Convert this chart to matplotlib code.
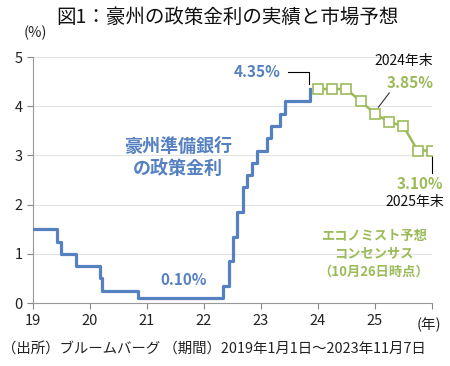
import matplotlib
matplotlib.use('Agg')
import matplotlib.pyplot as plt
import pandas as pd

plt.rcParams['font.family'] = ['Noto Sans CJK JP', 'DejaVu Sans']

# RBA cash rate, actual (change dates)
rba_dates = ['2019-01-01', '2019-06-04', '2019-07-02', '2019-10-01',
             '2020-03-03', '2020-03-19', '2020-11-03', '2022-05-03',
             '2022-06-07', '2022-07-05', '2022-08-02', '2022-09-06',
             '2022-10-04', '2022-11-01', '2022-12-06', '2023-02-07',
             '2023-03-07', '2023-05-02', '2023-06-06', '2023-11-07']
rba_rate = [1.50, 1.25, 1.00, 0.75, 0.50, 0.25, 0.10, 0.35, 0.85, 1.35,
            1.85, 2.35, 2.60, 2.85, 3.10, 3.35, 3.60, 3.85, 4.10, 4.35]

# economist consensus, quarter ends
fc_dates = ['2023-12-31', '2024-03-31', '2024-06-30', '2024-09-30',
            '2024-12-31', '2025-03-31', '2025-06-30', '2025-09-30',
            '2025-12-31']
fc_rate = [4.35, 4.35, 4.35, 4.10, 3.85, 3.68, 3.60, 3.10, 3.10]

year_ticks = [2019, 2020, 2021, 2022, 2023, 2024, 2025]
year_labels = ['19', '20', '21', '22', '23', '24', '25']

BLUE = '#5581C1'
GREEN = '#9BBB59'


def dec_year(ds):
    t = pd.to_datetime(pd.Series(ds))
    start = pd.to_datetime(t.dt.year.astype(str) + '-01-01')
    days = (t - start).dt.days + 1
    ylen = t.dt.is_leap_year.map({True: 366, False: 365})
    return (t.dt.year + days / ylen).to_numpy()


x_act = dec_year(rba_dates)
x_act[0] = 2019.0
x_fc = dec_year(fc_dates)

fig = plt.figure(figsize=(4.5, 3.66), dpi=100)
ax = fig.add_axes([0.073, 0.172, 0.887, 0.672])

ax.step(x_act, rba_rate, where='post', color=BLUE, lw=2.3, zorder=3)
ax.plot(x_fc, fc_rate, color=GREEN, lw=1.8, marker='s', ms=7,
        mfc='white', mec=GREEN, mew=1.2, zorder=3)

ax.set_xlim(2019, 2026)
ax.set_ylim(0, 5)
ax.set_xticks(year_ticks + [2026])
ax.set_xticklabels(year_labels + [''])
ax.set_yticks(range(6))
ax.tick_params(axis='both', colors='#888888', labelcolor='#222222',
               labelsize=10.5, length=4, width=0.8)
ax.tick_params(axis='x', pad=4)
ax.grid(axis='y', color='#E3E3E3', lw=0.8)
ax.set_axisbelow(True)
for s in ('top', 'right'):
    ax.spines[s].set_visible(False)
for s in ('left', 'bottom'):
    ax.spines[s].set_color('#999999')
    ax.spines[s].set_linewidth(0.8)

ax.text(2025.95, -0.45, '(年)', ha='center', va='center', fontsize=10.5,
        color='#222222', clip_on=False)
ax.text(2019.05, 5.5, '(%)', ha='center', va='center', fontsize=10.5,
        color='#222222', clip_on=False)

# actual labels
ax.text(2022.94, 4.70, f'{rba_rate[-1]:.2f}%', ha='center', va='center',
        fontsize=11, fontweight='bold', color=BLUE)
ax.plot([2023.47, 2023.85, 2023.85], [4.70, 4.70, 4.45], color='black',
        lw=0.8, clip_on=False)
ax.text(2021.54, 2.96, '豪州準備銀行\nの政策金利', ha='center', va='center',
        fontsize=13, fontweight='bold', color=BLUE, linespacing=1.2)
ax.text(2021.65, 0.47, f'{min(rba_rate):.2f}%', ha='center', va='center',
        fontsize=11, fontweight='bold', color=BLUE)

# forecast labels
ax.text(2025.51, 4.92, '2024年末', ha='center', va='center', fontsize=10,
        color='#111111', clip_on=False)
ax.text(2025.61, 4.47, f'{fc_rate[4]:.2f}%', ha='center', va='center',
        fontsize=11, fontweight='bold', color=GREEN, clip_on=False)
ax.plot([2025.25, 2025.06], [4.27, 3.98], color='#333333', lw=0.8)
ax.text(2025.79, 2.42, f'{fc_rate[-1]:.2f}%', ha='center', va='center',
        fontsize=11, fontweight='bold', color=GREEN, clip_on=False)
ax.text(2025.70, 2.05, '2025年末', ha='center', va='center', fontsize=10,
        color='#111111', clip_on=False)
ax.plot([2026.0, 2026.0], [3.0, 2.64], color='black', lw=0.8, clip_on=False)
ax.text(2024.98, 1.01, 'エコノミスト予想\nコンセンサス\n（10月26日時点）',
        ha='center', va='center', fontsize=9.5, fontweight='bold',
        color=GREEN, linespacing=1.35)

fig.text(0.505, 0.953, '図1：豪州の政策金利の実績と市場予想', ha='center',
         va='center', fontsize=14, color='#111111')
fig.text(0.005, 0.045, '（出所）ブルームバーグ （期間）2019年1月1日～2023年11月7日',
         ha='left', va='center', fontsize=10.4, color='#222222')

fig.savefig('out.png', dpi=100)
